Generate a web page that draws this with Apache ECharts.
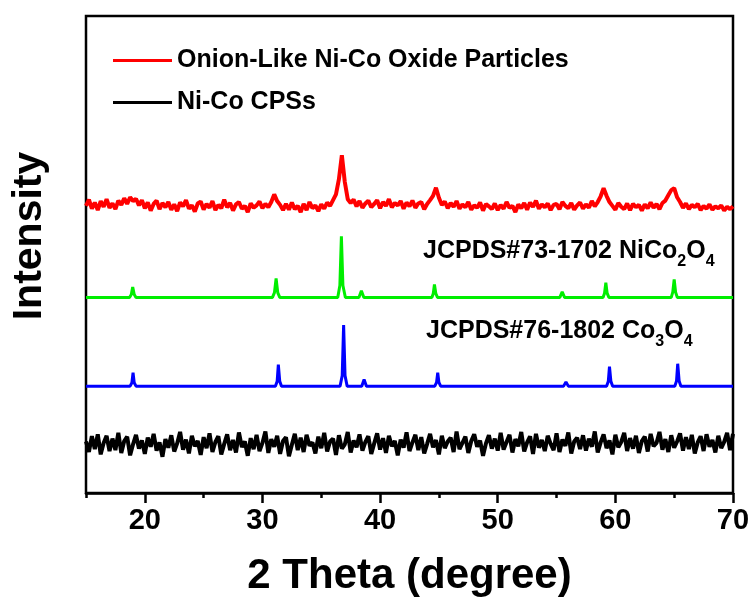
<!DOCTYPE html>
<html>
<head>
<meta charset="utf-8">
<script src="https://cdn.jsdelivr.net/npm/echarts@6/dist/echarts.min.js"></script>
<style>
html, body { margin: 0; padding: 0; background: #fff; }
#chart { width: 753px; height: 604px; }
</style>
</head>
<body>
<div id="chart"></div>
<script>
var FONT = '"Liberation Sans", Arial, sans-serif';

// measured scans: one value every 0.25 degree from 15 to 70
var scanStart = 15;
var scanStep = 0.25;

var oxideCounts = [
	60.2, 61.5, 59.6, 60.9, 59.3, 61.2, 60.0, 61.6, 59.8, 60.7,
	59.5, 61.3, 60.4, 61.8, 60.6, 62.0, 61.2, 61.7, 60.3, 61.4,
	59.7, 60.9, 59.2, 60.6, 61.3, 59.5, 60.8, 59.9, 61.0, 59.4,
	60.5, 59.1, 60.9, 60.1, 61.4, 59.6, 60.3, 59.0, 60.7, 61.1,
	59.4, 60.6, 59.8, 61.2, 59.3, 60.4, 59.7, 61.5, 59.9, 60.8,
	59.2, 60.5, 61.0, 59.6, 60.2, 58.9, 60.7, 59.8, 60.3, 61.1,
	59.7, 60.6, 59.9, 61.0, 62.6, 61.2, 60.4, 59.3, 60.6, 59.4,
	60.9, 59.5, 60.2, 58.9, 60.6, 59.3, 61.0, 59.7, 60.3, 59.1,
	60.5, 59.6, 60.9, 60.2, 61.4, 62.6, 65.8, 70.8, 65.2, 61.6,
	60.8, 61.5, 60.1, 61.2, 59.8, 60.7, 61.3, 59.9, 60.6, 61.4,
	59.7, 61.0, 60.2, 61.6, 59.9, 60.8, 60.3, 61.2, 59.6, 60.9,
	60.1, 61.3, 59.8, 60.7, 61.0, 59.5, 60.6, 61.4, 62.3, 64.0,
	61.9, 60.4, 61.1, 59.7, 60.8, 60.0, 61.2, 59.6, 60.5, 59.9,
	61.0, 59.4, 60.3, 59.8, 60.9, 59.2, 60.6, 60.1, 59.5, 60.7,
	59.3, 60.4, 59.6, 61.0, 59.8, 60.2, 58.9, 60.5, 59.7, 60.8,
	59.4, 60.9, 60.0, 61.3, 59.6, 60.5, 59.9, 60.7, 59.3, 60.4,
	60.6, 59.5, 61.0, 60.2, 59.7, 60.8, 59.4, 60.3, 60.9, 59.6,
	60.5, 59.8, 61.2, 60.1, 61.0, 62.2, 63.9, 62.3, 61.0, 60.2,
	59.4, 60.8, 60.0, 59.5, 60.7, 59.3, 60.6, 59.9, 60.4, 59.2,
	60.5, 59.7, 60.9, 59.8, 60.6, 59.5, 60.8, 61.3, 62.4, 63.5,
	63.9, 62.0, 61.0, 59.8, 60.7, 59.5, 60.4, 59.9, 60.6, 59.3,
	60.2, 59.6, 60.5, 59.4, 60.1, 59.7, 60.3, 59.2, 60.0, 59.5, 60.1
];

var cpsCounts = [
	10.8, 8.6, 11.9, 9.2, 12.3, 8.1, 10.5, 12.0, 8.8, 11.4,
	9.0, 12.6, 8.4, 10.9, 11.8, 7.9, 10.2, 12.2, 9.3, 11.0,
	8.2, 11.6, 9.7, 12.4, 8.9, 10.6, 7.6, 11.3, 9.5, 12.1,
	8.7, 10.4, 12.8, 9.1, 11.2, 8.3, 12.0, 9.8, 10.9, 8.0,
	11.7, 9.4, 12.5, 8.6, 10.7, 11.9, 8.1, 10.3, 12.3, 9.0,
	11.1, 8.5, 12.7, 9.6, 10.8, 7.8, 11.5, 9.2, 12.2, 8.8,
	10.5, 12.9, 8.4, 11.3, 9.7, 12.0, 8.2, 10.9, 11.7, 7.7,
	10.1, 12.4, 9.0, 11.6, 8.6, 12.2, 9.9, 10.6, 8.3, 11.8,
	9.4, 12.6, 8.7, 10.8, 11.4, 8.0, 12.1, 9.3, 10.2, 12.8,
	8.5, 11.0, 9.6, 12.3, 8.9, 10.7, 11.9, 8.2, 10.4, 12.5,
	9.1, 11.5, 8.4, 12.0, 9.8, 10.9, 7.9, 11.2, 9.5, 12.7,
	8.8, 10.6, 12.2, 9.0, 11.7, 8.3, 10.3, 12.4, 9.6, 11.1,
	8.1, 12.0, 9.4, 10.8, 11.6, 8.6, 12.9, 9.2, 10.5, 11.8,
	8.4, 10.9, 12.3, 9.7, 11.0, 7.8, 10.4, 12.1, 9.3, 11.4,
	8.9, 12.6, 9.1, 10.7, 12.2, 8.5, 11.3, 9.8, 12.8, 8.7,
	10.6, 11.9, 8.2, 12.4, 9.5, 11.1, 8.8, 12.0, 10.3, 9.0,
	12.5, 8.6, 11.2, 9.9, 12.7, 8.3, 10.8, 11.6, 9.2, 12.1,
	8.9, 11.4, 9.7, 12.9, 8.5, 10.6, 12.3, 9.4, 11.0, 8.1,
	12.2, 9.6, 10.7, 12.6, 8.8, 11.5, 9.3, 12.0, 8.4, 10.9,
	11.8, 8.7, 12.4, 9.8, 10.5, 12.8, 9.1, 11.3, 8.6, 12.1,
	9.5, 10.8, 12.5, 8.9, 11.7, 9.2, 12.2, 8.3, 10.6, 11.9,
	8.8, 12.3, 9.7, 11.1, 8.5, 12.0, 9.4, 10.7, 12.6, 9.0, 12.4
];

// reference patterns: [2theta, intensity]
var nico2o4Ref = [
	[15, 41.0], [18.7, 41.0], [18.85, 41.6], [18.97, 43.2], [19.1, 41.6], [19.25, 41.0],
	[30.85, 41.0], [31.02, 42.0], [31.16, 45.0], [31.3, 42.0], [31.47, 41.0],
	[36.4, 41.0], [36.58, 43.5], [36.71, 53.8], [36.84, 43.5], [37.05, 41.0],
	[38.2, 41.0], [38.41, 42.4], [38.62, 41.0],
	[44.4, 41.0], [44.52, 41.8], [44.62, 43.7], [44.74, 41.8], [44.88, 41.0],
	[55.28, 41.0], [55.48, 42.2], [55.68, 41.0],
	[58.95, 41.0], [59.08, 41.9], [59.19, 44.1], [59.3, 41.9], [59.45, 41.0],
	[64.75, 41.0], [64.88, 42.1], [65.0, 44.8], [65.12, 42.1], [65.27, 41.0],
	[70, 41.0]
];

var co3o4Ref = [
	[15, 22.4], [18.75, 22.4], [18.9, 23.1], [19.0, 25.2], [19.1, 23.1], [19.25, 22.4],
	[31.1, 22.4], [31.25, 23.4], [31.35, 26.9], [31.47, 23.4], [31.62, 22.4],
	[36.6, 22.4], [36.78, 24.6], [36.9, 35.2], [37.02, 24.6], [37.2, 22.4],
	[38.44, 22.4], [38.64, 23.8], [38.84, 22.4],
	[44.65, 22.4], [44.8, 23.2], [44.9, 25.2], [45.0, 23.2], [45.15, 22.4],
	[55.6, 22.4], [55.8, 23.3], [56.0, 22.4],
	[59.25, 22.4], [59.4, 23.4], [59.5, 26.5], [59.62, 23.4], [59.77, 22.4],
	[65.05, 22.4], [65.2, 23.5], [65.3, 27.1], [65.42, 23.5], [65.57, 22.4],
	[68.55, 22.4], [68.7, 22.8], [68.85, 22.4],
	[70, 22.4]
];

var majorTicks = [20, 30, 40, 50, 60, 70];
var minorTicks = [15, 25, 35, 45, 55, 65];

function toPairs(values) {
	return values.map(function (v, i) { return [scanStart + i * scanStep, v]; });
}

var subRich = {
	m: { fontFamily: FONT, fontWeight: 'bold', fontSize: 25, lineHeight: 25, padding: [0, 0, 6, 0], verticalAlign: 'bottom', color: '#000' },
	s: { fontFamily: FONT, fontWeight: 'bold', fontSize: 16, lineHeight: 16, verticalAlign: 'bottom', color: '#000' }
};

var myChart = echarts.init(document.getElementById('chart'));
myChart.setOption({
	animation: false,
	backgroundColor: '#fff',
	grid: {
		left: 86,
		right: 20,
		top: 16,
		bottom: 111,
		show: true,
		borderColor: '#000',
		borderWidth: 2.5
	},
	legend: {
		orient: 'vertical',
		left: 108,
		top: 43,
		icon: 'rect',
		itemWidth: 59,
		itemHeight: 3,
		itemGap: 17,
		data: ['Onion-Like Ni-Co Oxide Particles', 'Ni-Co CPSs'],
		textStyle: {
			fontFamily: FONT,
			fontWeight: 'bold',
			fontSize: 25,
			lineHeight: 25,
			color: '#000'
		}
	},
	xAxis: [{
		type: 'value',
		min: 15,
		max: 70,
		name: '2 Theta (degree)',
		nameLocation: 'middle',
		nameGap: 62,
		nameTextStyle: {
			fontFamily: FONT,
			fontWeight: 'bold',
			fontSize: 42,
			color: '#000'
		},
		axisLine: { lineStyle: { color: '#000', width: 2.5 } },
		axisTick: {
			customValues: majorTicks,
			length: 10,
			lineStyle: { color: '#000', width: 2.5 }
		},
		axisLabel: {
			customValues: majorTicks,
			margin: 13,
			fontFamily: FONT,
			fontWeight: 'bold',
			fontSize: 29,
			color: '#000'
		},
		splitLine: { show: false }
	}, {
		type: 'value',
		min: 15,
		max: 70,
		position: 'bottom',
		axisLine: { show: false },
		axisTick: {
			customValues: minorTicks,
			length: 5,
			lineStyle: { color: '#000', width: 2.5 }
		},
		axisLabel: { show: false },
		splitLine: { show: false }
	}],
	yAxis: {
		type: 'value',
		min: 0,
		max: 100,
		axisLine: { show: false },
		axisTick: { show: false },
		axisLabel: { show: false },
		splitLine: { show: false }
	},
	graphic: [{
		type: 'text',
		x: 30,
		y: 236,
		rotation: Math.PI / 2,
		style: {
			text: 'Intensity',
			fill: '#000',
			font: 'bold 41px ' + FONT,
			align: 'center',
			verticalAlign: 'middle'
		}
	}, {
		type: 'text',
		left: 423,
		top: 239,
		style: {
			text: '{m|JCPDS#73-1702 NiCo}{s|2}{m|O}{s|4}',
			rich: subRich
		}
	}, {
		type: 'text',
		left: 426,
		top: 319,
		style: {
			text: '{m|JCPDS#76-1802 Co}{s|3}{m|O}{s|4}',
			rich: subRich
		}
	}],
	series: [{
		name: 'Onion-Like Ni-Co Oxide Particles',
		type: 'line',
		showSymbol: false,
		color: '#ff0000',
		lineStyle: { width: 4 },
		data: toPairs(oxideCounts)
	}, {
		name: 'JCPDS#73-1702 NiCo2O4',
		type: 'line',
		showSymbol: false,
		color: '#00ee00',
		lineStyle: { width: 3 },
		data: nico2o4Ref
	}, {
		name: 'JCPDS#76-1802 Co3O4',
		type: 'line',
		showSymbol: false,
		color: '#0000ff',
		lineStyle: { width: 3 },
		data: co3o4Ref
	}, {
		name: 'Ni-Co CPSs',
		type: 'line',
		showSymbol: false,
		color: '#000000',
		lineStyle: { width: 4 },
		data: toPairs(cpsCounts)
	}]
});
</script>
</body>
</html>
